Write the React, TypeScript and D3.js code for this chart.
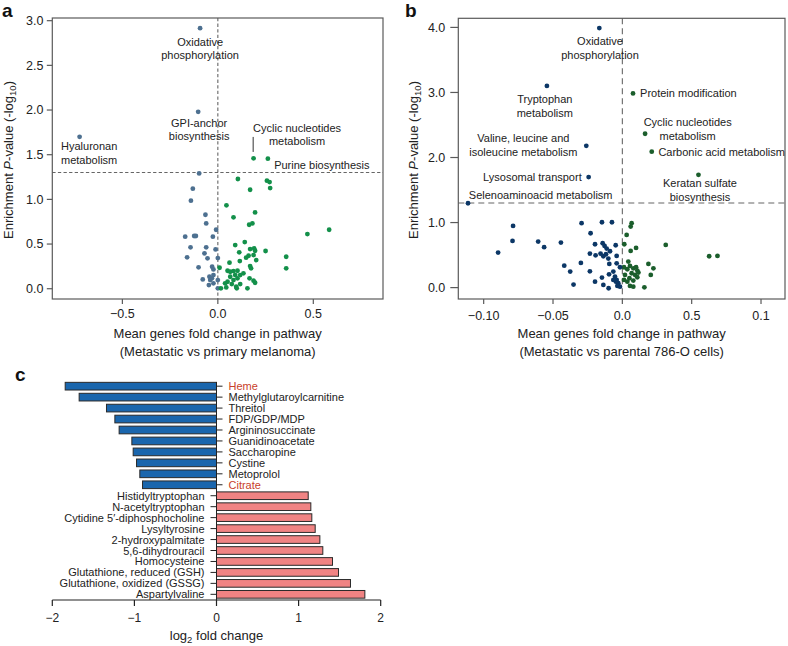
import React from "react";
import * as d3 from "d3";

type Pt = [number, number];
const FONT = "'Liberation Sans', Arial, Helvetica, sans-serif";

// ---------- Panel a data (Metastatic vs primary melanoma) ----------
const aBlue: Pt[] = [
  [-0.093, 2.916], [-0.103, 1.98], [-0.724, 1.7], [-0.098, 1.29], [-0.131, 1.12], [-0.141, 0.985],
  [-0.065, 0.828], [-0.061, 0.731], [-0.009, 0.66], [-0.171, 0.582], [-0.124, 0.59], [-0.115, 0.59],
  [-0.026, 0.582], [-0.143, 0.463], [-0.061, 0.463], [-0.012, 0.44], [-0.161, 0.351], [-0.07, 0.396],
  [-0.054, 0.34], [0.0, 0.343], [-0.101, 0.239], [-0.03, 0.246], [-0.023, 0.216], [-0.044, 0.134],
  [-0.031, 0.116], [-0.023, 0.153], [-0.04, 0.097], [-0.023, 0.06], [-0.079, 0.104], [-0.047, 0.041],
  [0.0, 0.097], [0.0, 0.004],
];
const aGreen: Pt[] = [
  [0.187, 1.459], [0.262, 1.455], [0.105, 1.228], [0.257, 1.209], [0.271, 1.194], [0.274, 1.127],
  [0.169, 1.108], [0.045, 0.933], [0.195, 0.854], [0.082, 0.799], [0.164, 0.716], [0.181, 0.731],
  [0.469, 0.612], [0.583, 0.66], [0.141, 0.522], [0.091, 0.489], [0.169, 0.444], [0.19, 0.451],
  [0.195, 0.425], [0.25, 0.422], [0.112, 0.407], [0.161, 0.369], [0.148, 0.347], [0.187, 0.377],
  [0.201, 0.321], [0.358, 0.358], [0.115, 0.31], [0.061, 0.291], [0.169, 0.254], [0.174, 0.228],
  [0.358, 0.228], [0.009, 0.235], [0.051, 0.201], [0.065, 0.19], [0.082, 0.198], [0.103, 0.201],
  [0.117, 0.153], [0.134, 0.172], [0.091, 0.153], [0.065, 0.134], [0.103, 0.116], [0.051, 0.078],
  [0.082, 0.097], [0.166, 0.116], [0.187, 0.09], [0.195, 0.067], [0.073, 0.052], [0.096, 0.022],
  [0.117, 0.052], [0.016, 0.004], [0.044, 0.015], [0.099, 0.004], [0.155, 0.004], [0.038, 0.06],
];
const aXTicks = [-0.5, 0, 0.5];
const aXTickLabels = ["\u22120.5", "0.0", "0.5"];
const aYTicks = [0, 0.5, 1, 1.5, 2, 2.5, 3];
const aYTickLabels = ["0.0", "0.5", "1.0", "1.5", "2.0", "2.5", "3.0"];

// ---------- Panel b data (Metastatic vs parental 786-O cells) ----------
const bBlue: Pt[] = [
  [-0.0166, 3.99], [-0.0544, 3.1], [-0.026, 2.18], [-0.0243, 1.7], [-0.1113, 1.297], [-0.0788, 0.949],
  [-0.0792, 0.718], [-0.0896, 0.538], [-0.0607, 0.708], [-0.0564, 0.621], [-0.0443, 0.692], [-0.0419, 0.338],
  [-0.0376, 0.246], [-0.0352, 0.046], [-0.0294, 0.99], [-0.0299, 0.379], [-0.0229, 0.836], [-0.0234, 0.523],
  [-0.0234, 0.251], [-0.0197, 0.667], [-0.0193, 0.497], [-0.0197, 0.092], [-0.0147, 1.005], [-0.0075, 1.005],
  [-0.0142, 0.682], [-0.0128, 0.641], [-0.0113, 0.6], [-0.0157, 0.523], [-0.0137, 0.482], [-0.0118, 0.513],
  [-0.0101, 0.446], [-0.0089, 0.559], [-0.0048, 0.651], [-0.0041, 0.487], [-0.0094, 0.364], [-0.0147, 0.154],
  [-0.0137, 0.041], [-0.0099, -0.01], [-0.0096, 0.205], [-0.0065, 0.246], [-0.0053, 0.169], [-0.0041, 0.118],
  [-0.0029, 0.067], [-0.0017, 0.015], [-0.0046, 0.092], [-0.0065, 0.118], [-0.0036, 0.026], [-0.0041, 0.374],
  [-0.0017, 0.313],
];
const bGreen: Pt[] = [
  [0.0077, 2.985], [0.0164, 2.365], [0.0212, 2.09], [0.0549, 1.734], [0.0067, 0.99], [0.006, 0.938],
  [0.0031, 0.81], [0.0014, 0.667], [0.0099, 0.61], [0.006, 0.564], [0.0313, 0.656], [0.0043, 0.4],
  [0.0012, 0.313], [0.0036, 0.282], [0.0055, 0.333], [0.0079, 0.297], [0.0099, 0.313], [0.0108, 0.262],
  [0.0067, 0.221], [0.0092, 0.195], [0.0108, 0.159], [0.0051, 0.144], [0.0079, 0.108], [0.0036, 0.092],
  [0.0019, 0.195], [0.0055, 0.026], [0.0079, 0.015], [0.0012, 0.118], [0.0116, 0.231], [0.0188, 0.364],
  [0.0224, 0.297], [0.0205, 0.195], [0.0159, 0.005], [0.0626, 0.482], [0.0686, 0.487],
];
const bXTicks = [-0.1, -0.05, 0, 0.05, 0.1];
const bXTickLabels = ["\u22120.10", "\u22120.05", "0.0", "0.5", "0.1"];
const bYTicks = [0, 1, 2, 3, 4];
const bYTickLabels = ["0.0", "1.0", "2.0", "3.0", "4.0"];

// ---------- Panel c data ----------
const metabolites = [
  "Heme", "Methylglutaroylcarnitine", "Threitol", "FDP/GDP/MDP", "Argininosuccinate",
  "Guanidinoacetate", "Saccharopine", "Cystine", "Metoprolol", "Citrate",
  "Histidyltryptophan", "N-acetyltryptophan", "Cytidine 5\u2032-diphosphocholine", "Lysyltyrosine",
  "2-hydroxypalmitate", "5,6-dihydrouracil", "Homocysteine", "Glutathione, reduced (GSH)",
  "Glutathione, oxidized (GSSG)", "Aspartylvaline",
];
const log2fc = [
  -1.843, -1.673, -1.34, -1.238, -1.186, -1.031, -1.015, -0.974, -0.934, -0.901,
  1.117, 1.149, 1.161, 1.202, 1.259, 1.295, 1.413, 1.486, 1.632, 1.807,
];
const highlighted = ["Heme", "Citrate"];
const cXTicks = [-2, -1, 0, 1, 2];
const cXTickLabels = ["\u22122", "\u22121", "0", "1", "2"];

type Ann = { lines: string[]; x: number; y: number; anchor: "start" | "middle" | "end" };

const aAnnotations: Ann[] = [
  { lines: ["Oxidative", "phosphorylation"], x: -0.093, y: 2.766, anchor: "middle" },
  { lines: ["GPI-anchor", "biosynthesis"], x: -0.098, y: 1.859, anchor: "middle" },
  { lines: ["Hyaluronan", "metabolism"], x: -0.674, y: 1.598, anchor: "middle" },
  { lines: ["Cyclic nucleotides", "metabolism"], x: 0.415, y: 1.803, anchor: "middle" },
  { lines: ["Purine biosynthesis"], x: 0.295, y: 1.385, anchor: "start" },
];
const aConnectors: [Pt, Pt][] = [[[0.185, 1.699], [0.185, 1.531]]];

const bAnnotations: Ann[] = [
  { lines: ["Oxidative", "phosphorylation"], x: -0.0161, y: 3.785, anchor: "middle" },
  { lines: ["Tryptophan", "metabolism"], x: -0.0559, y: 2.898, anchor: "middle" },
  { lines: ["Valine, leucine and", "isoleucine metabolism"], x: -0.0714, y: 2.298, anchor: "middle" },
  { lines: ["Lysosomal transport"], x: -0.0293, y: 1.708, anchor: "end" },
  { lines: ["Selenoaminoacid metabolism"], x: -0.0589, y: 1.426, anchor: "middle" },
  { lines: ["Protein modification"], x: 0.0128, y: 2.985, anchor: "start" },
  { lines: ["Cyclic nucleotides", "metabolism"], x: 0.0471, y: 2.545, anchor: "middle" },
  { lines: ["Carbonic acid metabolism"], x: 0.026, y: 2.092, anchor: "start" },
  { lines: ["Keratan sulfate", "biosynthesis"], x: 0.056, y: 1.606, anchor: "middle" },
];

type ScatterProps = {
  left: number; right: number; top: number; bottom: number;
  xDomain: [number, number]; yDomain: [number, number];
  xTicks: number[]; xTickLabels: string[]; yTicks: number[]; yTickLabels: string[];
  series: { pts: Pt[]; color: string }[];
  annotations: Ann[]; connectors: [Pt, Pt][];
  title2: string; yTitleX: number; letter: string; letterX: number;
  yTickLen: number; yLabelGap: number; xLabelY: number; dash: string;
};

function YTitle({ x, y }: { x: number; y: number }) {
  return (
    <text transform={`translate(${x},${y}) rotate(-90)`} textAnchor="middle" fontSize={13} fill="#222">
      Enrichment <tspan fontStyle="italic">P</tspan>-value (-log
      <tspan fontSize={9.5} dy={3}>10</tspan>
      <tspan dy={-3}>)</tspan>
    </text>
  );
}

function Scatter(p: ScatterProps) {
  const x = d3.scaleLinear().domain(p.xDomain).range([p.left, p.right]);
  const y = d3.scaleLinear().domain(p.yDomain).range([p.bottom, p.top]);
  const cx = (p.left + p.right) / 2;
  const frame = "#5a5a5a";
  return (
    <g>
      <text x={p.letterX} y={17} fontSize={19} fontWeight="bold" fill="#111">{p.letter}</text>
      {/* reference lines */}
      <line x1={p.left} x2={p.right} y1={y(1.3)} y2={y(1.3)} stroke="#666" strokeWidth={1.1} strokeDasharray={p.dash} />
      <line x1={x(0)} x2={x(0)} y1={p.top} y2={p.bottom} stroke="#666" strokeWidth={1.1} strokeDasharray={p.dash} />
      {/* frame */}
      <rect x={p.left} y={p.top} width={p.right - p.left} height={p.bottom - p.top} fill="none" stroke={frame} strokeWidth={1.2} />
      {p.yTicks.map((t, i) => (
        <g key={"y" + i}>
          <line x1={p.left - p.yTickLen} x2={p.left} y1={y(t)} y2={y(t)} stroke={frame} strokeWidth={1.2} />
          <text x={p.left - p.yTickLen - p.yLabelGap} y={y(t) + 4.3} textAnchor="end" fontSize={12.5} fill="#222">
            {p.yTickLabels[i]}
          </text>
        </g>
      ))}
      {p.xTicks.map((t, i) => (
        <g key={"x" + i}>
          <line x1={x(t)} x2={x(t)} y1={p.bottom} y2={p.bottom + 5} stroke={frame} strokeWidth={1.2} />
          <text x={x(t)} y={p.xLabelY} textAnchor="middle" fontSize={12.5} fill="#222">{p.xTickLabels[i]}</text>
        </g>
      ))}
      {p.series.map((s, si) => (
        <g key={"s" + si}>
          {s.pts.map((d, i) => (
            <circle key={i} cx={x(d[0])} cy={y(d[1])} r={2.4} fill={s.color} />
          ))}
        </g>
      ))}
      {p.connectors.map((c, i) => (
        <line key={"c" + i} x1={x(c[0][0])} y1={y(c[0][1])} x2={x(c[1][0])} y2={y(c[1][1])} stroke="#333" strokeWidth={1} />
      ))}
      {p.annotations.map((a, i) => (
        <text key={"a" + i} textAnchor={a.anchor} fontSize={11} fill="#222">
          {a.lines.map((l, j) => (
            <tspan key={j} x={x(a.x)} y={y(a.y) + 4 + j * 13.6}>{l}</tspan>
          ))}
        </text>
      ))}
      <text x={cx} y={337.5} textAnchor="middle" fontSize={13} fill="#222">Mean genes fold change in pathway</text>
      <text x={cx} y={356} textAnchor="middle" fontSize={13} fill="#222">{p.title2}</text>
      <YTitle x={p.yTitleX} y={160} />
    </g>
  );
}

function Bars() {
  const x = d3.scaleLinear().domain([-2, 2]).range([52.3, 380.7]);
  const yb = d3.scaleBand<string>().domain(metabolites).range([380.7, 599.8]).paddingInner(0.3).paddingOuter(0.15);
  const bw = yb.bandwidth();
  const axisY = 600;
  return (
    <g>
      <text x={15} y={381} fontSize={19} fontWeight="bold" fill="#111">c</text>
      {metabolites.map((m, i) => {
        const v = log2fc[i];
        const yc = (yb(m) as number) + bw / 2;
        const neg = v < 0;
        const col = highlighted.includes(m) ? "#c8402a" : "#222";
        return (
          <g key={m}>
            <rect x={x(Math.min(v, 0))} y={yc - bw / 2} width={Math.abs(x(v) - x(0))} height={bw}
              fill={neg ? "#1a66ad" : "#f08383"} stroke="#2a2a2a" strokeWidth={1} />
            <line x1={neg ? x(0) : x(0) - 6} x2={neg ? x(0) + 6 : x(0)} y1={yc} y2={yc} stroke="#222" strokeWidth={1} />
            <text x={neg ? x(0) + 12 : x(0) - 12} y={yc + 4} textAnchor={neg ? "start" : "end"} fontSize={11} fill={col}>{m}</text>
          </g>
        );
      })}
      <line x1={x(0)} x2={x(0)} y1={(yb(metabolites[0]) as number)} y2={axisY} stroke="#222" strokeWidth={1} />
      <line x1={x(-2)} x2={x(2)} y1={axisY} y2={axisY} stroke="#222" strokeWidth={1.2} />
      {cXTicks.map((t, i) => (
        <g key={t}>
          <line x1={x(t)} x2={x(t)} y1={axisY} y2={axisY + 6} stroke="#222" strokeWidth={1.2} />
          <text x={x(t)} y={622} textAnchor="middle" fontSize={12} fill="#222">{cXTickLabels[i]}</text>
        </g>
      ))}
      <text x={x(0)} y={639.5} textAnchor="middle" fontSize={13} fill="#222">
        log<tspan fontSize={9.5} dy={3}>2</tspan><tspan dy={-3}> fold change</tspan>
      </text>
    </g>
  );
}

export default function App() {
  return (
    <svg width={788} height={646} style={{ position: "absolute", left: 0, top: 0, background: "#fff" }} fontFamily={FONT}>
      <rect x={0} y={0} width={788} height={646} fill="#fff" />
      <Scatter
        left={52.3} right={383} top={18} bottom={299}
        xDomain={[-0.867, 0.865]} yDomain={[-0.115, 3.03]}
        xTicks={aXTicks} xTickLabels={aXTickLabels} yTicks={aYTicks} yTickLabels={aYTickLabels}
        series={[{ pts: aBlue, color: "#4d7090" }, { pts: aGreen, color: "#13904a" }]}
        annotations={aAnnotations} connectors={aConnectors}
        title2="(Metastatic vs primary melanoma)" yTitleX={12.5} letter="a" letterX={2}
        yTickLen={5.5} yLabelGap={3.4} xLabelY={317.5} dash="3.3,2.3"
      />
      <Scatter
        left={458.3} right={785} top={18.3} bottom={299}
        xDomain={[-0.1183, 0.1173]} yDomain={[-0.175, 4.14]}
        xTicks={bXTicks} xTickLabels={bXTickLabels} yTicks={bYTicks} yTickLabels={bYTickLabels}
        series={[{ pts: bGreen, color: "#1b5e2c" }, { pts: bBlue, color: "#0c3766" }]}
        annotations={bAnnotations} connectors={[]}
        title2="(Metastatic vs parental 786-O cells)" yTitleX={418} letter="b" letterX={405}
        yTickLen={8} yLabelGap={5} xLabelY={319.5} dash="6,4"
      />
      <Bars />
    </svg>
  );
}
